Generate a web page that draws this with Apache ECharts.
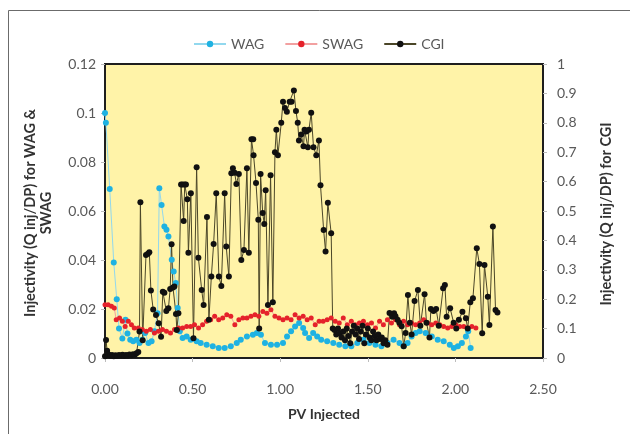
<!DOCTYPE html>
<html>
<head>
<meta charset="utf-8">
<script src="https://cdn.jsdelivr.net/npm/echarts@6/dist/echarts.min.js"></script>
<style>
    html, body { margin: 0; padding: 0; background: #fff; }
    #chart { width: 630px; height: 434px; }
</style>
</head>
<body>
<div id="chart"></div>
<script>
/*data*/
const xTicks = ['0.00', '0.50', '1.00', '1.50', '2.00', '2.50'];
const leftTicks = ['0', '0.02', '0.04', '0.06', '0.08', '0.1', '0.12'];
const rightTicks = ['0', '0.1', '0.2', '0.3', '0.4', '0.5', '0.6', '0.7', '0.8', '0.9', '1'];

const wagX = [0.000, 0.005, 0.027, 0.050, 0.067, 0.080, 0.099, 0.117, 0.128, 0.144,
    0.161, 0.179, 0.197, 0.213, 0.229, 0.248, 0.266, 0.282, 0.300, 0.310,
    0.323, 0.339, 0.351, 0.362, 0.381, 0.392, 0.404, 0.415, 0.427, 0.443,
    0.466, 0.489, 0.523, 0.546, 0.580, 0.615, 0.649, 0.683, 0.718, 0.752,
    0.775, 0.810, 0.844, 0.867, 0.890, 0.913, 0.947, 0.982, 1.016, 1.039,
    1.062, 1.085, 1.108, 1.131, 1.142, 1.165, 1.188, 1.211, 1.234, 1.268,
    1.303, 1.337, 1.372, 1.406, 1.440, 1.475, 1.509, 1.544, 1.578, 1.612,
    1.647, 1.681, 1.704, 1.727, 1.750, 1.773, 1.796, 1.830, 1.865, 1.899,
    1.933, 1.968, 1.991, 2.014, 2.037, 2.060, 2.073, 2.087];
const wagY = [0.100, 0.096, 0.069, 0.039, 0.024, 0.012, 0.008, 0.0156, 0.010, 0.0075,
    0.0068, 0.0075, 0.0061, 0.0075, 0.0102, 0.0061, 0.0068, 0.0109, 0.0183, 0.0693,
    0.0625, 0.0537, 0.0523, 0.0496, 0.0401, 0.0353, 0.0306, 0.0204, 0.0109, 0.0082,
    0.0088, 0.0075, 0.0068, 0.0061, 0.0054, 0.0048, 0.0041, 0.0041, 0.0048, 0.0061,
    0.0075, 0.0088, 0.0095, 0.0102, 0.0095, 0.0061, 0.0054, 0.0054, 0.0061, 0.0088,
    0.0109, 0.0129, 0.0143, 0.0122, 0.0102, 0.0082, 0.0102, 0.0088, 0.0075, 0.0068,
    0.0061, 0.0054, 0.0048, 0.0048, 0.0061, 0.0075, 0.0061, 0.0054, 0.0048, 0.0061,
    0.0075, 0.0061, 0.0048, 0.0061, 0.0088, 0.0102, 0.0109, 0.0102, 0.0088, 0.0075,
    0.0068, 0.0054, 0.0041, 0.0048, 0.0061, 0.0088, 0.0109, 0.0041];

const swagX = [0.000, 0.018, 0.037, 0.053, 0.064, 0.083, 0.099, 0.115, 0.133, 0.151,
    0.167, 0.190, 0.213, 0.236, 0.259, 0.282, 0.305, 0.328, 0.351, 0.374,
    0.397, 0.420, 0.443, 0.466, 0.489, 0.511, 0.534, 0.557, 0.580, 0.603,
    0.626, 0.649, 0.672, 0.695, 0.718, 0.741, 0.764, 0.787, 0.810, 0.833,
    0.856, 0.878, 0.901, 0.924, 0.947, 0.970, 0.993, 1.016, 1.039, 1.062,
    1.085, 1.108, 1.131, 1.154, 1.177, 1.200, 1.222, 1.245, 1.268, 1.291,
    1.314, 1.337, 1.360, 1.383, 1.406, 1.429, 1.452, 1.475, 1.498, 1.521,
    1.544, 1.567, 1.589, 1.612, 1.635, 1.658, 1.681, 1.704, 1.727, 1.750,
    1.773, 1.796, 1.819, 1.842, 1.865, 1.888, 1.911, 1.933, 1.956, 1.979,
    2.002, 2.025, 2.048, 2.071, 2.094, 2.117];
const swagY = [0.0217, 0.0217, 0.0211, 0.0204, 0.0156, 0.0163, 0.0150, 0.0129, 0.0150, 0.0136,
    0.0122, 0.0122, 0.0116, 0.0109, 0.0116, 0.0102, 0.0109, 0.0116, 0.0109, 0.0102,
    0.0116, 0.0122, 0.0122, 0.0129, 0.0129, 0.0136, 0.0122, 0.0136, 0.0150, 0.0156,
    0.0170, 0.0156, 0.0163, 0.0177, 0.0170, 0.0136, 0.0156, 0.0163, 0.0163, 0.0170,
    0.0177, 0.0170, 0.0190, 0.0183, 0.0197, 0.0170, 0.0163, 0.0156, 0.0163, 0.0156,
    0.0177, 0.0163, 0.0170, 0.0156, 0.0163, 0.0136, 0.0150, 0.0150, 0.0156, 0.0163,
    0.0150, 0.0143, 0.0163, 0.0136, 0.0150, 0.0136, 0.0143, 0.0150, 0.0136, 0.0143,
    0.0122, 0.0150, 0.0136, 0.0156, 0.0143, 0.0156, 0.0136, 0.0150, 0.0136, 0.0143,
    0.0136, 0.0143, 0.0156, 0.0143, 0.0136, 0.0143, 0.0136, 0.0129, 0.0122, 0.0129,
    0.0136, 0.0129, 0.0129, 0.0122, 0.0129, 0.0122];

const cgiX = [0.000, 0.006, 0.012, 0.020, 0.030, 0.040, 0.050, 0.060, 0.070, 0.080,
    0.090, 0.100, 0.110, 0.120, 0.130, 0.140, 0.150, 0.160, 0.170, 0.180,
    0.190, 0.197, 0.202, 0.215, 0.234, 0.245, 0.253, 0.262, 0.275, 0.291,
    0.306, 0.320, 0.330, 0.339, 0.350, 0.362, 0.372, 0.380, 0.388, 0.396,
    0.405, 0.410, 0.419, 0.434, 0.443, 0.449, 0.455, 0.462, 0.470, 0.476,
    0.490, 0.505, 0.523, 0.533, 0.552, 0.563, 0.582, 0.593, 0.607, 0.620,
    0.635, 0.650, 0.664, 0.683, 0.692, 0.707, 0.721, 0.730, 0.740, 0.750,
    0.764, 0.778, 0.793, 0.810, 0.821, 0.836, 0.846, 0.848, 0.862, 0.875,
    0.880, 0.888, 0.900, 0.909, 0.917, 0.930, 0.945, 0.958, 0.970, 0.978,
    0.987, 1.006, 1.016, 1.027, 1.038, 1.054, 1.065, 1.078, 1.090, 1.100,
    1.107, 1.120, 1.133, 1.139, 1.149, 1.158, 1.164, 1.177, 1.190, 1.206,
    1.221, 1.230, 1.248, 1.259, 1.272, 1.291, 1.300, 1.310, 1.320, 1.330,
    1.340, 1.350, 1.360, 1.370, 1.380, 1.390, 1.400, 1.410, 1.420, 1.430,
    1.440, 1.450, 1.460, 1.470, 1.480, 1.490, 1.500, 1.510, 1.520, 1.530,
    1.540, 1.550, 1.560, 1.570, 1.580, 1.590, 1.600, 1.612, 1.624, 1.640,
    1.650, 1.658, 1.670, 1.680, 1.693, 1.705, 1.716, 1.729, 1.740, 1.750,
    1.767, 1.786, 1.800, 1.824, 1.835, 1.852, 1.860, 1.875, 1.890, 1.905,
    1.930, 1.940, 1.950, 1.970, 1.990, 2.005, 2.020, 2.040, 2.060, 2.070,
    2.085, 2.100, 2.122, 2.137, 2.153, 2.166, 2.185, 2.194, 2.214, 2.229,
    2.240];
const cgiY = [0.006, 0.061, 0.025, 0.012, 0.008, 0.010, 0.006, 0.009, 0.007, 0.010,
    0.008, 0.011, 0.007, 0.010, 0.008, 0.012, 0.009, 0.013, 0.011, 0.016,
    0.020, 0.090, 0.530, 0.060, 0.350, 0.355, 0.360, 0.230, 0.165, 0.146,
    0.118, 0.072, 0.225, 0.222, 0.160, 0.169, 0.235, 0.387, 0.240, 0.243,
    0.150, 0.095, 0.152, 0.590, 0.590, 0.466, 0.590, 0.590, 0.540, 0.358,
    0.560, 0.067, 0.649, 0.341, 0.231, 0.180, 0.480, 0.130, 0.277, 0.388,
    0.560, 0.277, 0.245, 0.560, 0.379, 0.277, 0.628, 0.645, 0.630, 0.592,
    0.626, 0.333, 0.367, 0.645, 0.358, 0.744, 0.744, 0.690, 0.595, 0.470,
    0.100, 0.626, 0.493, 0.456, 0.571, 0.180, 0.622, 0.190, 0.700, 0.776,
    0.690, 0.800, 0.872, 0.850, 0.838, 0.872, 0.872, 0.910, 0.840, 0.800,
    0.740, 0.760, 0.720, 0.776, 0.770, 0.717, 0.776, 0.834, 0.717, 0.690,
    0.740, 0.588, 0.435, 0.362, 0.528, 0.424, 0.100, 0.095, 0.080, 0.100,
    0.085, 0.070, 0.090, 0.060, 0.100, 0.075, 0.050, 0.090, 0.110, 0.080,
    0.100, 0.065, 0.090, 0.110, 0.050, 0.080, 0.100, 0.070, 0.060, 0.090,
    0.075, 0.060, 0.080, 0.065, 0.070, 0.050, 0.060, 0.045, 0.153, 0.140,
    0.152, 0.142, 0.130, 0.120, 0.108, 0.040, 0.085, 0.214, 0.120, 0.080,
    0.194, 0.231, 0.110, 0.217, 0.120, 0.070, 0.167, 0.160, 0.167, 0.110,
    0.237, 0.248, 0.140, 0.169, 0.120, 0.100, 0.130, 0.157, 0.135, 0.100,
    0.190, 0.203, 0.373, 0.320, 0.084, 0.316, 0.208, 0.112, 0.447, 0.163,
    0.155];

(function () {
    const el = document.getElementById('chart');
    const chart = echarts.init(el, null, { renderer: 'canvas' });
    const font = 'Lato';
    const labelColor = '#595959';

    function pairs(xs, ys) {
        return xs.map(function (x, i) { return [x, ys[i]]; });
    }

    const tickStyle = { show: true, length: 4, lineStyle: { color: '#bdbdbd' } };

    const option = {
        animation: false,
        textStyle: { fontFamily: font },
        legend: {
            top: 32,
            left: 188,
            itemWidth: 32,
            itemHeight: 8,
            itemGap: 20,
            textStyle: { fontFamily: font, fontSize: 14, color: labelColor },
            data: ['WAG', 'SWAG', 'CGI']
        },
        grid: {
            left: 105,
            right: 87,
            top: 64,
            bottom: 76,
            show: true,
            backgroundColor: '#fff3a8',
            borderColor: '#1e1e1e',
            borderWidth: 2
        },
        xAxis: {
            type: 'value',
            min: 0,
            max: 2.5,
            interval: 0.5,
            name: 'PV Injected',
            nameLocation: 'middle',
            nameGap: 49,
            nameTextStyle: { fontFamily: font, fontSize: 14, fontWeight: 'bold', color: '#333' },
            axisLine: { show: false },
            axisTick: tickStyle,
            splitLine: { show: false },
            axisLabel: {
                margin: 24,
                fontFamily: font,
                fontSize: 14,
                color: labelColor,
                formatter: function (v) { return xTicks[Math.round(v / 0.5)]; }
            }
        },
        yAxis: [{
            type: 'value',
            min: 0,
            max: 0.12,
            interval: 0.02,
            axisLine: { show: false },
            axisTick: tickStyle,
            splitLine: { show: false },
            axisLabel: {
                margin: 9,
                fontFamily: font,
                fontSize: 14,
                color: labelColor,
                formatter: function (v) { return leftTicks[Math.round(v / 0.02)]; }
            }
        }, {
            type: 'value',
            min: 0,
            max: 1,
            interval: 0.1,
            position: 'right',
            axisLine: { show: false },
            axisTick: tickStyle,
            splitLine: { show: false },
            axisLabel: {
                margin: 14,
                fontFamily: font,
                fontSize: 14,
                color: labelColor,
                formatter: function (v) { return rightTicks[Math.round(v / 0.1)]; }
            }
        }],
        graphic: [{
            type: 'rect',
            silent: true,
            shape: { x: 8.5, y: 10.5, width: 700, height: 500 },
            style: { fill: 'none', stroke: '#6b6b6b', lineWidth: 1 }
        }, {
            type: 'text',
            x: 38,
            y: 213,
            rotation: Math.PI / 2,
            style: {
                text: 'Injectivity (Q inj/DP) for WAG &\nSWAG',
                font: 'bold 14.5px Lato',
                fill: '#333',
                align: 'center',
                verticalAlign: 'middle',
                lineHeight: 16
            }
        }, {
            type: 'text',
            x: 606,
            y: 214,
            rotation: Math.PI / 2,
            style: {
                text: 'Injectivity (Q inj/DP) for CGI',
                font: 'bold 14.5px Lato',
                fill: '#333',
                align: 'center',
                verticalAlign: 'middle'
            }
        }],
        series: [{
            name: 'WAG',
            type: 'line',
            yAxisIndex: 0,
            data: pairs(wagX, wagY),
            symbol: 'circle',
            symbolSize: 6,
            itemStyle: { color: '#1fb2e2' },
            lineStyle: { color: '#92d8ee', width: 1 }
        }, {
            name: 'SWAG',
            type: 'line',
            yAxisIndex: 0,
            data: pairs(swagX, swagY),
            symbol: 'circle',
            symbolSize: 5,
            itemStyle: { color: '#e5222b' },
            lineStyle: { color: '#f2a0a0', width: 1 }
        }, {
            name: 'CGI',
            type: 'line',
            yAxisIndex: 1,
            data: pairs(cgiX, cgiY),
            symbol: 'circle',
            symbolSize: 6,
            itemStyle: { color: '#111' },
            lineStyle: { color: '#4b4628', width: 1 }
        }]
    };

    chart.setOption(option);
})();
</script>
</body>
</html>
